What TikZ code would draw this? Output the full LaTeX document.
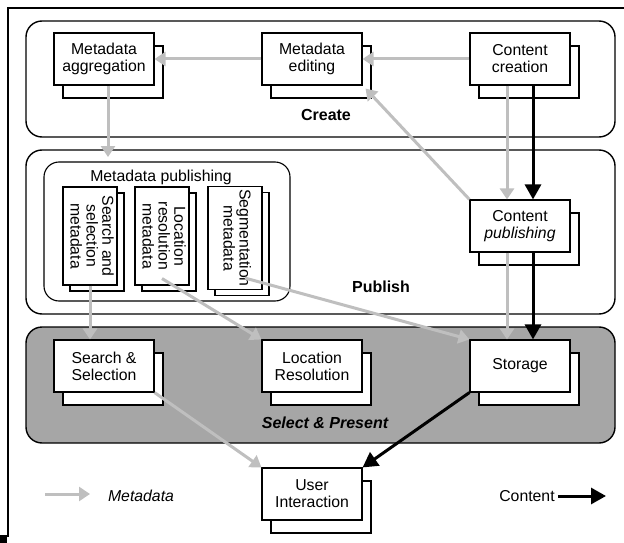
\documentclass[tikz,border=0pt]{standalone}
\usepackage{fontspec}
\setmainfont{Liberation Sans}
\usepackage{xcolor}
\usepackage{tikz}
\usetikzlibrary{shadows,arrows.meta,calc}

\tikzset{
    stage/.style={draw=black, line width=1.4pt, rounded corners=16pt},
    task/.style={draw=black, fill=white, line width=1.1pt, minimum width=100pt, minimum height=52pt,
        inner sep=2pt, align=center, font=\fontsize{15.8}{17}\selectfont,
        copy shadow={shadow xshift=9pt, shadow yshift=-13pt, fill=white, draw=black, line width=1.1pt}},
    metadoc/.style={draw=black, fill=white, line width=1.1pt, minimum width=54pt, minimum height=98pt,
        inner sep=2pt, font=\fontsize{15.8}{15}\selectfont,
        copy shadow={shadow xshift=7pt, shadow yshift=-6pt, fill=white, draw=black, line width=1.1pt}},
    stagelabel/.style={font=\fontsize{16}{17}\selectfont\bfseries},
    metaflow/.style={draw=gray!50, line width=3pt, -{Triangle[length=11pt, width=14pt]}},
    contentflow/.style={draw=black, line width=3pt, -{Triangle[length=15pt, width=16pt]}}
}

\begin{document}
\begin{tikzpicture}[x=1pt, y=-1pt]
    \useasboundingbox (0,0) rectangle (624,543);

    % frame
    \draw[line width=1.3pt] (8,537) -- (8,8) -- (624,8);
    \fill (0,535) rectangle (7,543);

    % the three stages
    \draw[stage] (26,21) rectangle (615,137);
    \draw[stage] (26,150) rectangle (615,314);
    \draw[stage, rounded corners=15pt, line width=1.1pt] (44,162) rectangle (290,301);
    \draw[stage, fill=gray!70] (26,327) rectangle (615,443);

    \node[stagelabel] (createlbl) at (326,115) {Create};
    \node[stagelabel] (publishlbl) at (381,287) {Publish};
    \node[stagelabel, font=\fontsize{16}{17}\selectfont\bfseries\itshape] (presentlbl) at (325,423) {Select \& Present};
    \node[font=\fontsize{15.8}{17}\selectfont] (metapub) at (161,177) {Metadata publishing};

    % create
    \node[task] (aggregation) at (104,59) {Metadata\\aggregation};
    \node[task] (editing) at (312,59) {Metadata\\editing};
    \node[task] (creation) at (520,59) {Content\\creation};

    % publish
    \node[metadoc] (searchmeta) at (90,236) {\rotatebox{-90}{\begin{tabular}{@{}c@{}}Search and\\selection\\metadata\end{tabular}}};
    \node[metadoc] (locmeta) at (162,236) {\rotatebox{-90}{\begin{tabular}{@{}c@{}}Location\\resolution\\metadata\end{tabular}}};
    \node[metadoc, minimum height=103pt] (segmeta) at (235,238) {\rotatebox{-90}{\begin{tabular}{@{}c@{}}Segmentation\\metadata\end{tabular}}};
    \node[task] (publishing) at (520,226) {Content\\\textit{publishing}};

    % select & present
    \node[task] (search) at (104,366) {Search \&\\Selection};
    \node[task] (locres) at (312,366) {Location\\Resolution};
    \node[task] (storage) at (520,366) {Storage};
    \node[task] (user) at (312,494) {User\\Interaction};

    % metadata flows
    \draw[metaflow] (editing.west) -- (aggregation.east);
    \draw[metaflow] (creation.west) -- (editing.east);
    \draw[metaflow] ([xshift=4pt]aggregation.south) -- ([xshift=4pt]aggregation.south |- 0,157);
    \draw[metaflow] (publishing.north west) -- ([xshift=3pt,yshift=-3pt]editing.south east);
    \draw[metaflow] ([xshift=-13pt]creation.south) -- ([xshift=-13pt]publishing.north);
    \draw[metaflow] ([xshift=-13pt]publishing.south) -- ([xshift=-13pt]storage.north);
    \draw[metaflow] (searchmeta.south) -- (searchmeta.south |- search.north);
    \draw[metaflow] ([yshift=7pt]locmeta.south) -- (locres.north west);
    \draw[metaflow] ([xshift=10pt,yshift=12pt]segmeta.south) -- (storage.north west);
    \draw[metaflow] (search.south east) -- (user.north west);

    % content flows
    \draw[contentflow] ([xshift=13pt]creation.south) -- ([xshift=13pt]publishing.north);
    \draw[contentflow] ([xshift=13pt]publishing.south) -- ([xshift=13pt]storage.north);
    \draw[contentflow] (storage.south west) -- (user.north east);

    % legend
    \coordinate (metafrom) at (45,494);
    \coordinate (metato) at (90,494);
    \draw[metaflow] (metafrom) -- (metato);
    \node[font=\fontsize{15.8}{17}\selectfont\itshape] (metakey) at (141,496) {Metadata};
    \node[font=\fontsize{15.8}{17}\selectfont] (contentkey) at (527,496) {Content};
    \coordinate (contentfrom) at (558,496);
    \coordinate (contentto) at (606,496);
    \draw[contentflow] (contentfrom) -- (contentto);
\end{tikzpicture}
\end{document}
